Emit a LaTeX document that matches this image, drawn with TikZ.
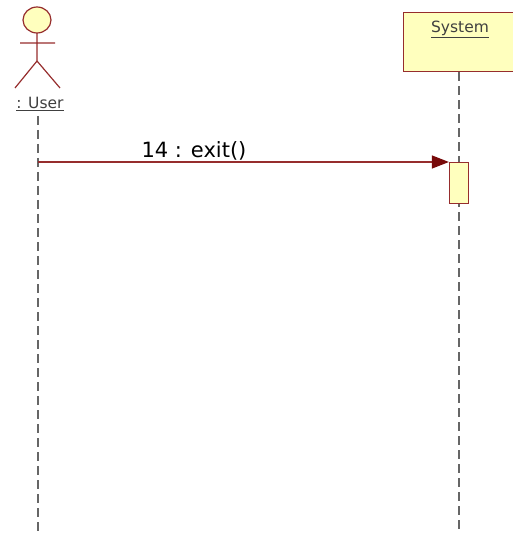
\documentclass[tikz,border=0pt]{standalone}
\usepackage{fontspec}
\setmainfont{DejaVu Sans}
\usetikzlibrary{arrows.meta,positioning}
\definecolor{umlred}{RGB}{150,45,45}
\definecolor{umldark}{RGB}{120,10,10}
\definecolor{umlfill}{RGB}{255,255,190}

\begin{document}
\begin{tikzpicture}[x=1pt,y=-1pt,
	umlbox/.style={draw=umlred,fill=umlfill,line width=1.2pt,inner sep=0pt},
	life/.style={draw=black!60,line width=1.4pt,dash pattern=on 9pt off 5pt},
	small/.style={font=\fontsize{15.5}{18}\selectfont,text=black!75}]
	\useasboundingbox (0,0) rectangle (512,534);
	\path
	(37,20) coordinate (H)
	(37,33) coordinate (neck)
	(37,61) coordinate (hip)
	(20,43) coordinate (armL)
	(55,43) coordinate (armR)
	(15,88) coordinate (legL)
	(60,88) coordinate (legR)
	(38,116) coordinate (userlife)
	(38,534) coordinate (userend)
	(459,534) coordinate (sysend)
	(38,162) coordinate (msg)
	;
	% actor
	\draw[umlred,fill=umlfill,line width=1.2pt] (H) ellipse (14 and 13);
	\draw[umlred,line width=1.2pt] (neck)--(hip) (armL)--(armR) (legL)--(hip)--(legR);
	\node[small] (user) at (40,104) {\underline{: User}};
	% system
	\node[umlbox,anchor=north west,minimum width=110pt,minimum height=59pt] (sys) at (403,12) {};
	\node[small] (systxt) at (460,29) {\underline{System}};
	\draw[life] (userlife)--(userend);
	\draw[life] (sys.south -| sysend)--(sysend);
	\node[umlbox,anchor=north,minimum width=19pt,minimum height=41pt] (act) at (459,162) {};
	% message
	\draw[umlred,line width=1.2pt,-{Triangle[length=17pt,width=13pt,color=umldark]}] (msg)--(act.north west);
	\node[font=\fontsize{21}{24}\selectfont] (exit) at (194,151) {14 : exit()};
\end{tikzpicture}
\end{document}
